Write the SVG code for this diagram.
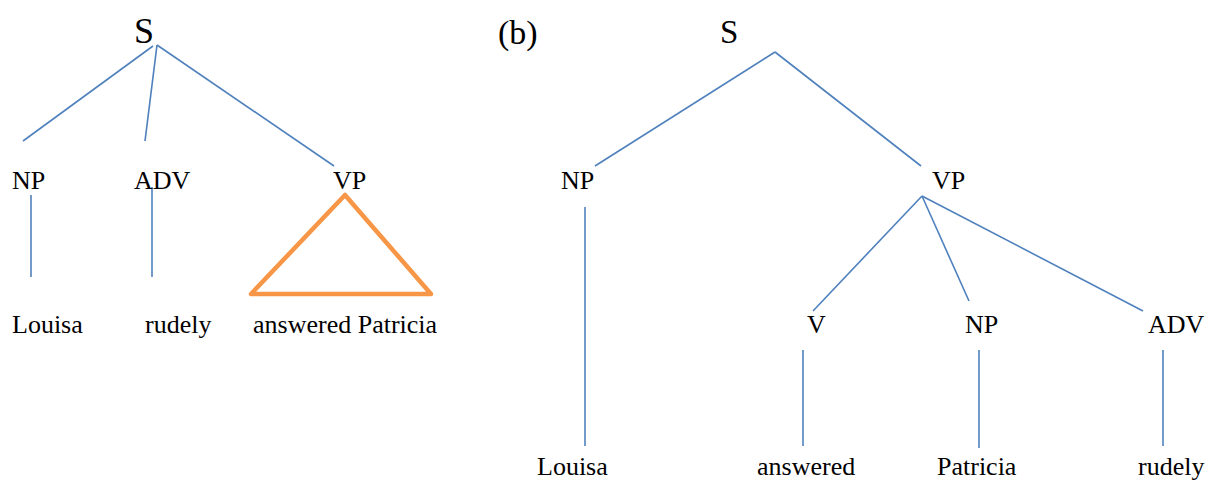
<svg xmlns="http://www.w3.org/2000/svg" width="1215" height="481" viewBox="0 0 1215 481">
<style>
text{font-family:"Liberation Serif","Times New Roman",serif;fill:#000;font-size:26px}
.big{font-size:36px}
.conn line{stroke:#4F81BD;stroke-width:1.6;fill:none}
.tri{fill:none;stroke:#F79646;stroke-width:4.5;stroke-linejoin:round}
</style>
<g id="connectors" class="conn">
<line x1="153" y1="46" x2="23" y2="141"/>
<line x1="157" y1="45" x2="145" y2="141"/>
<line x1="157" y1="45" x2="334" y2="166"/>
<line x1="31" y1="195" x2="31" y2="277"/>
<line x1="152" y1="187" x2="152" y2="277"/>
<line x1="775" y1="52" x2="595" y2="166"/>
<line x1="775" y1="52" x2="921" y2="166"/>
<line x1="585" y1="207" x2="585" y2="446"/>
<line x1="922" y1="196" x2="813" y2="311"/>
<line x1="922" y1="196" x2="969" y2="301"/>
<line x1="922" y1="196" x2="1143" y2="311"/>
<line x1="803" y1="350" x2="803" y2="446"/>
<line x1="979" y1="350" x2="979" y2="448"/>
<line x1="1163" y1="350" x2="1163" y2="446"/>
</g>
<g id="a-S"><text class="big" x="134" y="43">S</text></g>
<g id="a-NP"><text x="12" y="189">NP</text></g>
<g id="a-ADV"><text x="134" y="189">ADV</text></g>
<g id="a-VP"><text x="333" y="189">VP</text></g>
<g id="a-triangle"><polygon class="tri" points="345,195 251,294 431,294"/></g>
<g id="a-Louisa"><text x="12" y="333">Louisa</text></g>
<g id="a-rudely"><text x="145" y="333">rudely</text></g>
<g id="a-answered-Patricia"><text x="253" y="333">answered Patricia</text></g>
<g id="label-b"><text x="498" y="44" style="font-size:34px">(b)</text></g>
<g id="b-S"><text x="720" y="43" style="font-size:33px">S</text></g>
<g id="b-NP"><text x="561" y="189">NP</text></g>
<g id="b-VP"><text x="932" y="189">VP</text></g>
<g id="b-V"><text x="807" y="333">V</text></g>
<g id="b-NP2"><text x="965" y="333">NP</text></g>
<g id="b-ADV"><text x="1148" y="333">ADV</text></g>
<g id="b-Louisa"><text x="537" y="475">Louisa</text></g>
<g id="b-answered"><text x="757" y="475">answered</text></g>
<g id="b-Patricia"><text x="937" y="475">Patricia</text></g>
<g id="b-rudely"><text x="1138" y="475">rudely</text></g>
</svg>
